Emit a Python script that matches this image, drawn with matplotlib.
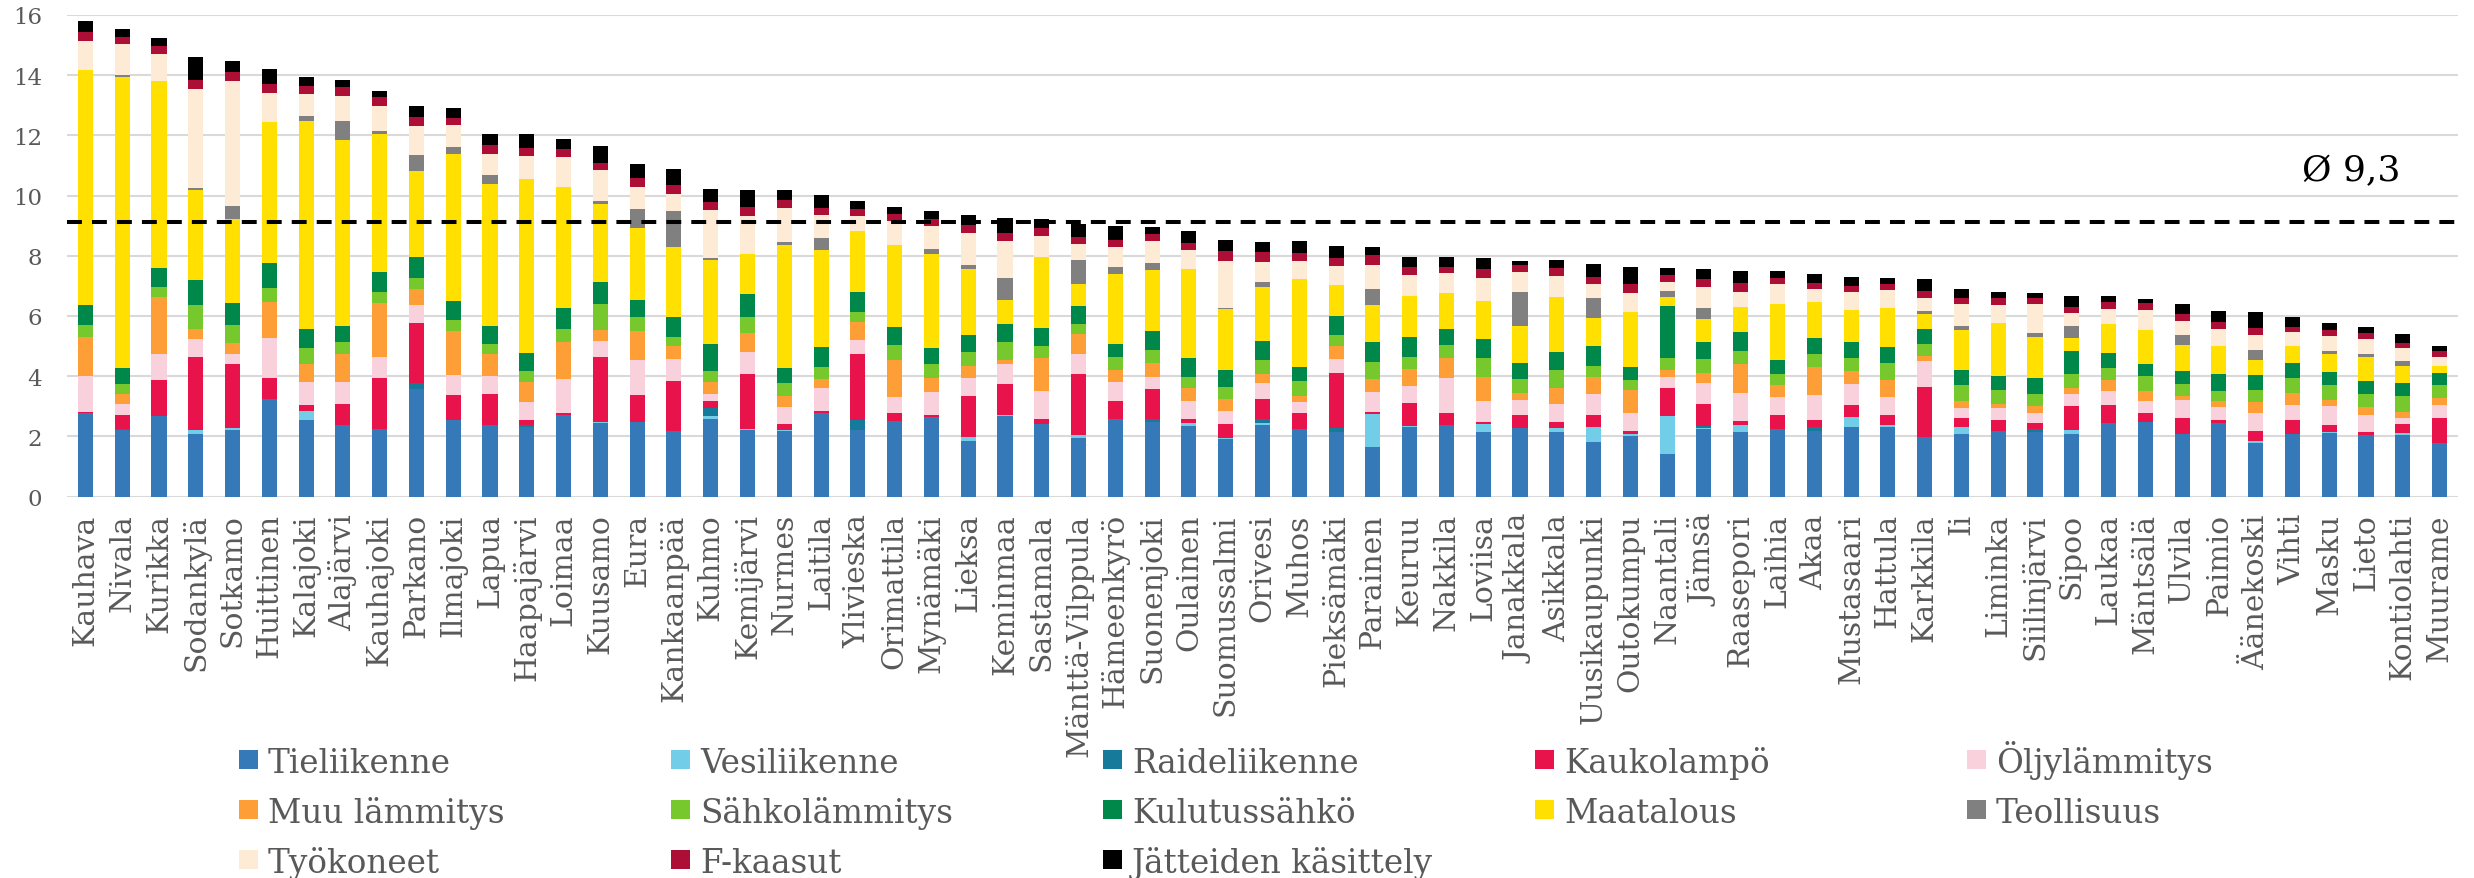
import matplotlib.pyplot as plt
import numpy as np
from matplotlib.patches import Rectangle

# municipalities (x axis)
kunnat = ['Kauhava', 'Nivala', 'Kurikka', 'Sodankylä', 'Sotkamo', 'Huittinen', 'Kalajoki', 'Alajärvi',
          'Kauhajoki', 'Parkano', 'Ilmajoki', 'Lapua', 'Haapajärvi', 'Loimaa', 'Kuusamo', 'Eura',
          'Kankaanpää', 'Kuhmo', 'Kemijärvi', 'Nurmes', 'Laitila', 'Ylivieska', 'Orimattila', 'Mynämäki',
          'Lieksa', 'Keminmaa', 'Sastamala', 'Mänttä-Vilppula', 'Hämeenkyrö', 'Suonenjoki', 'Oulainen',
          'Suomussalmi', 'Orivesi', 'Muhos', 'Pieksämäki', 'Parainen', 'Keuruu', 'Nakkila', 'Loviisa',
          'Janakkala', 'Asikkala', 'Uusikaupunki', 'Outokumpu', 'Naantali', 'Jämsä', 'Raasepori', 'Laihia',
          'Akaa', 'Mustasaari', 'Hattula', 'Karkkila', 'Ii', 'Liminka', 'Siilinjärvi', 'Sipoo', 'Laukaa',
          'Mäntsälä', 'Ulvila', 'Paimio', 'Äänekoski', 'Vihti', 'Masku', 'Lieto', 'Kontiolahti', 'Muurame']

# emission series, stacked from bottom to top
tieliikenne = [2.79, 2.22, 2.68, 2.07, 2.22, 3.24, 2.54, 2.39, 2.24, 3.57, 2.53, 2.39, 2.30, 2.70, 2.43, 2.46,
               2.17, 2.59, 2.20, 2.18, 2.76, 2.22, 2.52, 2.63, 1.86, 2.69, 2.40, 1.96, 2.57, 2.49, 2.35, 1.91,
               2.38, 2.23, 2.13, 1.65, 2.30, 2.39, 2.13, 2.29, 2.15, 1.80, 2.02, 1.42, 2.24, 2.14, 2.24, 2.16,
               2.30, 2.32, 1.99, 2.07, 2.18, 2.15, 2.07, 2.43, 2.46, 2.08, 2.43, 1.77, 2.09, 2.10, 2.05, 2.06,
               1.77]
vesiliikenne = [0, 0, 0, 0.15, 0.05, 0, 0.30, 0, 0, 0, 0, 0, 0, 0, 0.04, 0, 0, 0.07, 0.04, 0.04, 0, 0, 0, 0,
                0.12, 0.03, 0, 0.07, 0, 0, 0.08, 0.05, 0.06, 0, 0, 1.10, 0.03, 0, 0.28, 0, 0.12, 0.52, 0.07,
                1.26, 0.04, 0.25, 0, 0, 0.33, 0.04, 0, 0.24, 0, 0, 0.13, 0, 0, 0, 0, 0.06, 0, 0.03, 0, 0.04, 0]
raideliikenne = [0, 0.03, 0, 0, 0, 0, 0, 0, 0, 0.20, 0, 0, 0.06, 0, 0, 0, 0, 0.27, 0, 0, 0, 0.33, 0, 0, 0,
                 0, 0, 0, 0, 0.09, 0, 0, 0.15, 0, 0.13, 0, 0, 0, 0, 0, 0, 0, 0, 0, 0.06, 0, 0, 0.16, 0, 0, 0,
                 0, 0, 0.08, 0, 0, 0, 0, 0, 0, 0, 0, 0, 0, 0]
kaukolampo = [0.03, 0.45, 1.20, 2.42, 2.13, 0.70, 0.20, 0.68, 1.71, 1.98, 0.83, 1.01, 0.17, 0.06, 2.16, 0.92,
              1.66, 0.25, 1.83, 0.18, 0.07, 2.18, 0.25, 0.07, 1.35, 1.03, 0.19, 2.04, 0.62, 0.99, 0.14, 0.44,
              0.64, 0.54, 1.85, 0.07, 0.77, 0.40, 0.08, 0.42, 0.19, 0.39, 0.08, 0.92, 0.72, 0.11, 0.47, 0.23,
              0.40, 0.34, 1.66, 0.30, 0.37, 0.20, 0.81, 0.61, 0.31, 0.52, 0.11, 0.34, 0.45, 0.24, 0.08, 0.30,
              0.83]
oljylammitys = [1.18, 0.37, 0.84, 0.59, 0.32, 1.33, 0.75, 0.74, 0.69, 0.63, 0.68, 0.59, 0.61, 1.14, 0.54, 1.16,
                0.73, 0.23, 0.73, 0.56, 0.76, 0.48, 0.52, 0.78, 0.60, 0.65, 0.93, 0.66, 0.60, 0.39, 0.59, 0.43,
                0.55, 0.38, 0.45, 0.66, 0.57, 1.14, 0.70, 0.50, 0.63, 0.69, 0.60, 0.38, 0.71, 0.95, 0.59, 0.83,
                0.70, 0.61, 0.84, 0.33, 0.38, 0.33, 0.39, 0.47, 0.40, 0.62, 0.42, 0.60, 0.50, 0.64, 0.59, 0.20,
                0.43]
muu_lammitys = [1.31, 0.32, 1.92, 0.35, 0.37, 1.20, 0.60, 0.92, 1.78, 0.50, 1.46, 0.76, 0.67, 1.23, 0.37, 0.97,
                0.43, 0.38, 0.62, 0.39, 0.31, 0.59, 1.26, 0.45, 0.40, 0.13, 1.09, 0.66, 0.42, 0.46, 0.44, 0.42,
                0.29, 0.20, 0.44, 0.44, 0.56, 0.66, 0.78, 0.24, 0.53, 0.57, 0.76, 0.22, 0.35, 0.95, 0.39, 0.92,
                0.44, 0.55, 0.18, 0.22, 0.16, 0.24, 0.19, 0.35, 0.34, 0.11, 0.22, 0.38, 0.41, 0.19, 0.27, 0.21,
                0.25]
sahkolammitys = [0.39, 0.34, 0.31, 0.80, 0.61, 0.47, 0.56, 0.42, 0.39, 0.38, 0.38, 0.31, 0.36, 0.43, 0.85, 0.44,
                 0.31, 0.38, 0.53, 0.42, 0.40, 0.32, 0.48, 0.47, 0.48, 0.60, 0.40, 0.35, 0.41, 0.46, 0.38, 0.39,
                 0.47, 0.48, 0.35, 0.54, 0.40, 0.43, 0.63, 0.44, 0.58, 0.38, 0.34, 0.39, 0.45, 0.43, 0.38, 0.42,
                 0.44, 0.57, 0.39, 0.53, 0.45, 0.40, 0.49, 0.41, 0.49, 0.40, 0.32, 0.39, 0.48, 0.50, 0.40, 0.54,
                 0.41]
kulutussahko = [0.68, 0.53, 0.64, 0.82, 0.74, 0.83, 0.61, 0.52, 0.64, 0.69, 0.60, 0.61, 0.60, 0.70, 0.74, 0.58,
                0.66, 0.89, 0.78, 0.50, 0.68, 0.68, 0.59, 0.54, 0.57, 0.59, 0.59, 0.59, 0.45, 0.63, 0.62, 0.55,
                0.63, 0.48, 0.64, 0.69, 0.66, 0.53, 0.65, 0.53, 0.61, 0.64, 0.43, 1.74, 0.58, 0.63, 0.45, 0.54,
                0.53, 0.55, 0.50, 0.50, 0.48, 0.55, 0.74, 0.50, 0.39, 0.43, 0.58, 0.50, 0.51, 0.44, 0.46, 0.43,
                0.40]
maatalous = [7.78, 9.68, 6.23, 2.99, 2.78, 4.67, 6.92, 6.19, 4.60, 2.85, 4.91, 4.71, 5.79, 4.03, 2.59, 2.39,
             2.33, 2.81, 1.34, 4.10, 3.21, 2.01, 2.73, 3.11, 2.18, 0.81, 2.37, 0.72, 2.32, 2.01, 2.96, 2.05,
             1.80, 2.92, 1.05, 1.21, 1.37, 1.20, 1.25, 1.24, 1.83, 0.93, 1.82, 0.31, 0.74, 0.83, 1.88, 1.20,
             1.07, 1.27, 0.50, 1.33, 1.74, 1.36, 0.44, 0.96, 1.13, 0.89, 0.93, 0.49, 0.57, 0.61, 0.78, 0.55,
             0.24]
teollisuus = [0, 0.08, 0, 0.06, 0.42, 0, 0.15, 0.61, 0.10, 0.55, 0.24, 0.30, 0, 0, 0.09, 0.65, 1.19, 0.06, 0,
              0.08, 0.39, 0, 0, 0.17, 0.14, 0.74, 0, 0.81, 0.24, 0.24, 0, 0.03, 0.17, 0, 0, 0.53, 0, 0, 0,
              1.15, 0, 0.68, 0, 0.19, 0.38, 0, 0, 0, 0, 0.03, 0.11, 0.13, 0, 0.11, 0.40, 0, 0, 0.32, 0, 0.35,
              0, 0.08, 0.12, 0.16, 0]
tyokoneet = [0.98, 1.01, 0.88, 3.28, 4.16, 0.96, 0.74, 0.84, 0.84, 0.96, 0.73, 0.71, 0.76, 0.98, 1.03, 0.71,
             0.58, 1.60, 1.26, 1.13, 0.77, 0.52, 0.82, 0.78, 1.07, 1.22, 0.70, 0.52, 0.66, 0.74, 0.64, 1.55,
             0.66, 0.59, 0.61, 0.80, 0.71, 0.68, 0.76, 0.64, 0.70, 0.45, 0.65, 0.30, 0.69, 0.52, 0.66, 0.45,
             0.57, 0.59, 0.42, 0.76, 0.59, 0.99, 0.45, 0.51, 0.69, 0.47, 0.57, 0.47, 0.44, 0.50, 0.48, 0.44,
             0.31]
f_kaasut = [0.29, 0.23, 0.26, 0.31, 0.31, 0.31, 0.28, 0.29, 0.27, 0.29, 0.22, 0.28, 0.27, 0.28, 0.25, 0.29,
            0.29, 0.27, 0.30, 0.26, 0.25, 0.22, 0.21, 0.22, 0.25, 0.25, 0.24, 0.25, 0.22, 0.21, 0.21, 0.33,
            0.31, 0.28, 0.27, 0.32, 0.27, 0.21, 0.30, 0.23, 0.24, 0.23, 0.29, 0.22, 0.27, 0.27, 0.19, 0.18,
            0.23, 0.20, 0.24, 0.20, 0.25, 0.20, 0.20, 0.21, 0.21, 0.22, 0.23, 0.25, 0.17, 0.20, 0.19, 0.18,
            0.19]
jatteet = [0.38, 0.29, 0.29, 0.75, 0.37, 0.51, 0.30, 0.24, 0.23, 0.38, 0.32, 0.37, 0.44, 0.32, 0.57, 0.48,
           0.52, 0.41, 0.55, 0.33, 0.43, 0.28, 0.23, 0.27, 0.33, 0.50, 0.30, 0.44, 0.47, 0.25, 0.40, 0.37,
           0.35, 0.38, 0.39, 0.27, 0.33, 0.33, 0.37, 0.16, 0.27, 0.44, 0.57, 0.25, 0.33, 0.41, 0.24, 0.31,
           0.29, 0.20, 0.39, 0.27, 0.20, 0.16, 0.34, 0.21, 0.14, 0.35, 0.35, 0.54, 0.33, 0.23, 0.22, 0.28,
           0.17]

nimet = ['Tieliikenne', 'Vesiliikenne', 'Raideliikenne', 'Kaukolampö', 'Öljylämmitys',
         'Muu lämmitys', 'Sähkolämmitys', 'Kulutussähkö', 'Maatalous', 'Teollisuus',
         'Työkoneet', 'F-kaasut', 'Jätteiden käsittely']
sarjat = [tieliikenne, vesiliikenne, raideliikenne, kaukolampo, oljylammitys, muu_lammitys,
          sahkolammitys, kulutussahko, maatalous, teollisuus, tyokoneet, f_kaasut, jatteet]
varit = ['#3579b8', '#72cde8', '#167b9b', '#e8134b', '#f9d1dc', '#fe9e37', '#77c82d',
         '#00874a', '#ffe000', '#808080', '#fdebd6', '#ad0e36', '#000000']

# average line (drawn position) and its label
keskiarvo = 9.12
keskiarvo_teksti = 'Ø 9,3'

harmaa = '#595959'
fontti = 'DejaVu Serif'
W, H = 2474, 879

fig = plt.figure(figsize=(W / 100, H / 100), dpi=100)
ax = fig.add_axes([67 / W, 1 - 497.5 / H, 2391 / W, 481.5 / H])

x = np.arange(len(kunnat))
pohja = np.zeros(len(kunnat))
# stacked bars
for arvot, vari, nimi in zip(sarjat, varit, nimet):
    arvot = np.array(arvot)
    ax.bar(x, arvot, bottom=pohja, width=0.41, color=vari, label=nimi, zorder=2)
    pohja += arvot

# dashed average line and its label
ax.axhline(keskiarvo, color='black', linewidth=2.9, dashes=(3.7, 2.5), zorder=3)
ax.text(62.95, 10.83, keskiarvo_teksti, ha='right', va='center', fontsize=26,
        family=fontti, color='black')

# axes styling
ax.set_xlim(-0.5, len(kunnat) - 0.5)
ax.set_ylim(0, 16)
ax.set_yticks(np.arange(0, 17, 2))
ax.grid(axis='y', color='#d9d9d9', linewidth=1.5, zorder=0)
ax.set_axisbelow(True)
for s in ax.spines.values():
    s.set_visible(False)
ax.set_xticks(x)
ax.set_xticklabels(kunnat, rotation=90, fontsize=21.5, family=fontti, color=harmaa)
ax.tick_params(axis='x', length=0, pad=12)
ax.tick_params(axis='y', length=0, pad=18, labelsize=16.5, labelcolor=harmaa)
for t in ax.get_yticklabels():
    t.set_family(fontti)

# legend: 5 columns x 3 rows, drawn entry by entry so rows line up
sarake_x = [239, 671, 1103, 1535, 1967]
rivi_y = [773, 823, 873]   # text baselines in pixels from top
for i, (nimi, vari) in enumerate(zip(nimet, varit)):
    sx = sarake_x[i % 5]
    ry = rivi_y[i // 5]
    fig.add_artist(Rectangle((sx / W, 1 - (ry - 3) / H), 19 / W, 19 / H,
                             transform=fig.transFigure, facecolor=vari, edgecolor='none'))
    fig.text((sx + 29) / W, 1 - ry / H, nimi, ha='left', va='baseline',
             fontsize=23.5, family=fontti, color=harmaa)

plt.savefig('out.png', dpi=100)
